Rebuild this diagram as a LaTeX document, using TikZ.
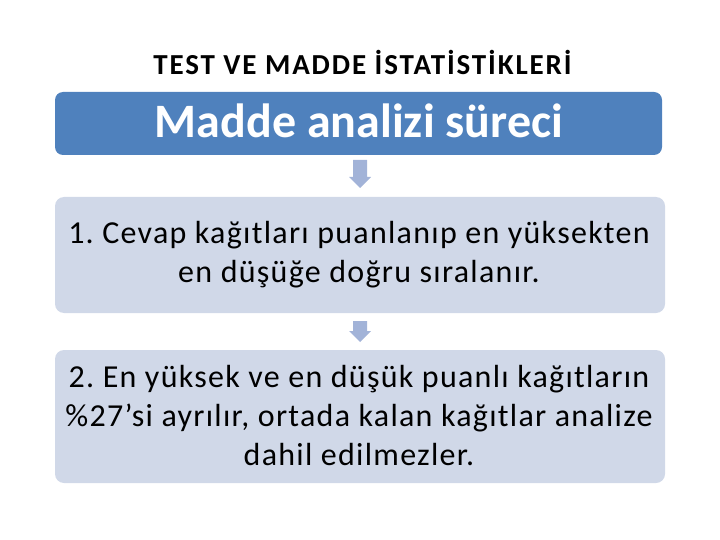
\documentclass[tikz,border=0pt]{standalone}
\usepackage{fontspec}
\setmainfont{Carlito}
\newfontfamily\widefont[LetterSpace=4]{Carlito}
\newfontfamily\titlefont[LetterSpace=6.5]{Carlito}
\definecolor{hdrblue}{HTML}{4F81BD}
\definecolor{lightbox}{HTML}{D0D8E8}
\definecolor{arrowc}{HTML}{A2B3D8}
\frenchspacing
\begin{document}
\begin{tikzpicture}[x=1pt,y=-1pt,
  hdrbox/.style={fill=hdrblue, rounded corners=8pt},
  panel/.style={fill=lightbox, rounded corners=9pt},
  steptext/.style={text=black, inner sep=0pt, align=center, font=\frenchspacing\widefont\fontsize{32}{39}\selectfont},
  downarrow/.style={fill=arrowc, draw=none}]
\useasboundingbox (0,0) rectangle (720,540);
\node[anchor=base, inner sep=0pt, font=\titlefont\bfseries\fontsize{29}{33}\selectfont] (title) at (362.5,74.5) {TEST VE MADDE İSTATİSTİKLERİ};
\path[hdrbox] (55,92) rectangle (662,155);
\node[anchor=base, inner sep=0pt, text=white, font=\bfseries\fontsize{48}{54}\selectfont] (h) at (359,138) {Madde analizi süreci};
\path[panel] (55,197) rectangle (665,313);
\node[steptext] (s1) at (359,255) {1. Cevap kağıtları puanlanıp en yüksekten\\en düşüğe doğru sıralanır.};
\path[panel] (55,350) rectangle (665,483);
\node[steptext] (s2) at (359,416) {2. En yüksek ve en düşük puanlı kağıtların\\\%27’si ayrılır, ortada kalan kağıtlar analize\\dahil edilmezler.};
\fill[downarrow] (353,160) -- (367,160) -- (367,177) -- (371,177) -- (360,188) -- (349,177) -- (353,177) -- cycle;
\fill[downarrow] (353,321) -- (367,321) -- (367,331) -- (371,331) -- (360,342) -- (349,331) -- (353,331) -- cycle;
\end{tikzpicture}
\end{document}
